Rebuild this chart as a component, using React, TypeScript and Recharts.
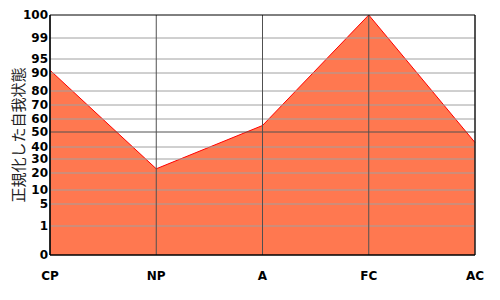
import { AreaChart, Area, XAxis, YAxis, ReferenceLine } from "recharts";

const states = ["CP", "NP", "A", "FC", "AC"];
const scores = [91, 23, 55, 100, 43];
const tickValues = [0, 1, 5, 10, 20, 30, 40, 50, 60, 70, 80, 90, 95, 99, 100];
// where each printed tick sits on the (non-linear) axis, 0..240 units
const tickUnits = [0, 29, 51, 65, 82, 96, 108, 123, 136, 150, 164, 182, 196, 217, 240];

function toUnits(v: number) {
  for (let i = 1; i < tickValues.length; i++) {
    if (v <= tickValues[i]) {
      const t = (v - tickValues[i - 1]) / (tickValues[i] - tickValues[i - 1]);
      return tickUnits[i - 1] + t * (tickUnits[i] - tickUnits[i - 1]);
    }
  }
  return tickUnits[tickUnits.length - 1];
}

const data = states.map((name, i) => ({ name, score: scores[i], u: toUnits(scores[i]) }));

const tickFont = { fontFamily: "DejaVu Sans", fontSize: 12, fontWeight: "bold", fill: "#000" };

export default function App() {
  return (
    <div style={{ position: "absolute", left: 0, top: 0, width: 500, height: 300, background: "#fff" }}>
      <AreaChart width={500} height={300} data={data} margin={{ top: 15, right: 25, bottom: 15, left: 0 }}>
        <XAxis
          dataKey="name"
          height={30}
          tickLine={false}
          tickSize={0}
          tickMargin={16}
          axisLine={{ stroke: "#000" }}
          tick={tickFont}
          interval={0}
        />
        <YAxis
          type="number"
          domain={[0, 240]}
          ticks={tickUnits}
          width={50}
          tickLine={false}
          tickSize={0}
          tickMargin={2}
          axisLine={{ stroke: "#000" }}
          tick={tickFont}
          interval={0}
          tickFormatter={(u: number) => String(tickValues[tickUnits.indexOf(u)])}
          label={{
            content: ({ viewBox }: any) => {
              const cy = viewBox.y + viewBox.height / 2;
              return (
                <text
                  x={17}
                  y={cy}
                  transform={`rotate(-90, 17, ${cy})`}
                  textAnchor="middle"
                  dominantBaseline="central"
                  fontFamily="Noto Sans CJK JP"
                  fontSize={15}
                  fill="#222"
                >
                  正規化した自我状態
                </text>
              );
            },
          }}
        />
        <Area
          type="linear"
          dataKey="u"
          stroke="#ff0000"
          strokeWidth={1}
          fill="#ff7850"
          fillOpacity={1}
          dot={false}
          activeDot={false}
          isAnimationActive={false}
        />
        {tickUnits.slice(1, -1).map((u, i) => (
          <ReferenceLine key={"h" + u} y={u} stroke={tickValues[i + 1] === 50 ? "#505050" : "#a0a0a0"} strokeWidth={1} />
        ))}
        {states.map((s) => (
          <ReferenceLine key={"v" + s} x={s} stroke="#505050" strokeWidth={1} />
        ))}
        <ReferenceLine y={240} stroke="#000" />
        <ReferenceLine x="CP" stroke="#000" />
        <ReferenceLine x="AC" stroke="#000" />
        <ReferenceLine y={0} stroke="#000" />
      </AreaChart>
    </div>
  );
}
